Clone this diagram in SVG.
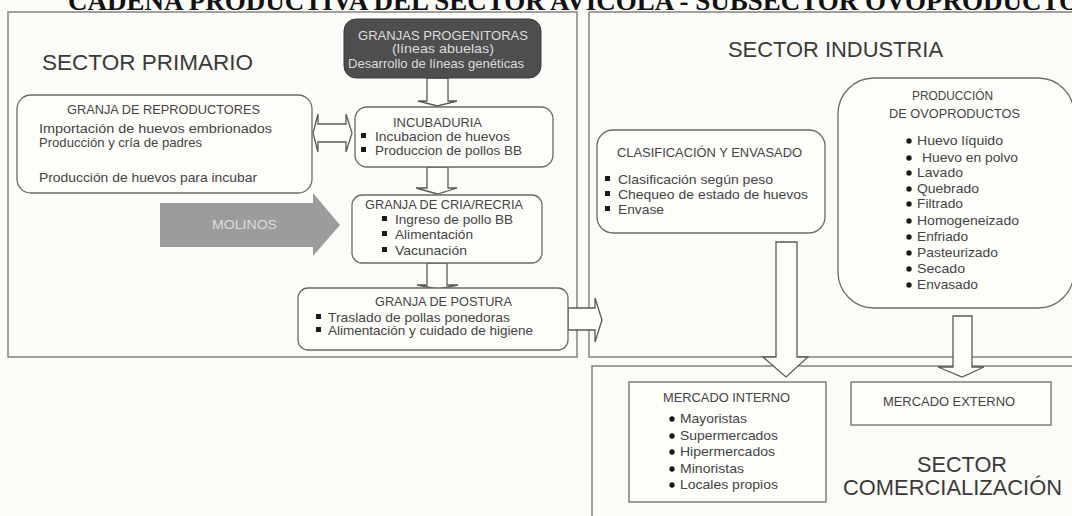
<svg xmlns="http://www.w3.org/2000/svg" width="1072" height="516" viewBox="0 0 1072 516">
<style>
.t{font-family:"Liberation Sans",Arial,sans-serif;font-size:13px;fill:#444}
.big{font-family:"Liberation Sans",Arial,sans-serif;font-size:22px;fill:#3a3a3a}
.title{font-family:"Liberation Serif","Times New Roman",serif;font-size:27px;font-weight:bold;fill:#111}
.panel{fill:none;stroke:#8a8a8a;stroke-width:1.6}
.box{fill:#fdfdfa;stroke:#6a6a6a;stroke-width:1.3}
.arr{fill:#fdfdfa;stroke:#5a5a5a;stroke-width:1.3;stroke-linejoin:miter}
.sq{fill:#1a1a1a}
.lt{font-family:"Liberation Sans",Arial,sans-serif;font-size:13px;fill:#dcdcdc}
</style>
<rect x="0" y="0" width="1072" height="516" fill="#fbfbf7"/>
<text class="title" x="68" y="10">CADENA PRODUCTIVA DEL SECTOR AVICOLA - SUBSECTOR OVOPRODUCTOS</text>

<g id="panels">
<rect class="panel" x="8" y="12" width="569" height="345"/>
<rect class="panel" x="589" y="12" width="490" height="345"/>
<rect class="panel" x="592" y="366" width="490" height="160"/>
<text class="big" x="42" y="70" textLength="211" lengthAdjust="spacingAndGlyphs">SECTOR PRIMARIO</text>
<text class="big" x="728" y="57" textLength="215" lengthAdjust="spacingAndGlyphs">SECTOR INDUSTRIA</text>
<text class="big" x="917" y="472" textLength="90" lengthAdjust="spacingAndGlyphs">SECTOR</text>
<text class="big" x="843" y="495" textLength="219" lengthAdjust="spacingAndGlyphs">COMERCIALIZACIÓN</text>
</g>

<g id="connectors">
<polygon class="arr" points="427,78 448,78 448,101 457,101 437.5,106 418,101 427,101"/>
<polygon class="arr" points="427,167 448,167 448,188 457,188 437.5,194 416,188 427,188"/>
<polygon class="arr" points="427,263 447,263 447,285 458,285 437.5,289 417,285 427,285"/>
<polygon class="arr" points="568,308 595,308 595,298 602,320 595,342 595,330 568,330"/>
<polygon class="arr" points="318,124 346,124 346,114 352,133 346,152 346,142 318,142 318,152 313,133 318,114"/>
<polygon class="arr" points="776,242 797,242 797,357 808,357 786,377 763,357 776,357"/>
<polygon class="arr" points="953,316 972,316 972,367 984,367 962,377 938,367 953,367"/>
</g>

<g id="molinos">
<polygon points="160,203 313,203 313,193 340,225 313,256 313,247 160,247" fill="#9c9c9c"/>
<text class="lt" x="212" y="229" textLength="65" lengthAdjust="spacingAndGlyphs">MOLINOS</text>
</g>

<g id="progenitoras">
<rect x="344" y="19" width="197" height="59" rx="12" fill="#4e4e4e" stroke="#3a3a3a"/>
<text class="lt" x="358" y="40" textLength="170" lengthAdjust="spacingAndGlyphs">GRANJAS PROGENITORAS</text>
<text class="lt" x="392" y="53" textLength="102" lengthAdjust="spacingAndGlyphs">(líneas abuelas)</text>
<text class="lt" x="348" y="68" textLength="176" lengthAdjust="spacingAndGlyphs">Desarrollo de líneas genéticas</text>
</g>

<g id="reproductores">
<rect class="box" x="17" y="95" width="295" height="98" rx="14"/>
<text class="t" x="67" y="114" textLength="193" lengthAdjust="spacingAndGlyphs">GRANJA DE REPRODUCTORES</text>
<text class="t" x="39" y="133" textLength="233" lengthAdjust="spacingAndGlyphs">Importación de huevos embrionados</text>
<text class="t" x="39" y="147" textLength="163" lengthAdjust="spacingAndGlyphs">Producción y cría de padres</text>
<text class="t" x="39" y="182" textLength="218" lengthAdjust="spacingAndGlyphs">Producción de huevos para incubar</text>
</g>

<g id="incubaduria">
<rect class="box" x="355" y="107" width="198" height="60" rx="12"/>
<text class="t" x="393" y="127" textLength="89" lengthAdjust="spacingAndGlyphs">INCUBADURIA</text>
<rect class="sq" x="361" y="133" width="5" height="5"/>
<text class="t" x="375" y="141" textLength="135" lengthAdjust="spacingAndGlyphs">Incubacion de huevos</text>
<rect class="sq" x="361" y="147" width="5" height="5"/>
<text class="t" x="375" y="155" textLength="147" lengthAdjust="spacingAndGlyphs">Produccion de pollos BB</text>
</g>

<g id="cria">
<rect class="box" x="352" y="195" width="190" height="68" rx="10"/>
<text class="t" x="365" y="209" textLength="158" lengthAdjust="spacingAndGlyphs">GRANJA DE CRIA/RECRIA</text>
<rect class="sq" x="382" y="216" width="5" height="5"/>
<text class="t" x="395" y="224" textLength="118" lengthAdjust="spacingAndGlyphs">Ingreso de pollo BB</text>
<rect class="sq" x="382" y="231" width="5" height="5"/>
<text class="t" x="395" y="239" textLength="78" lengthAdjust="spacingAndGlyphs">Alimentación</text>
<rect class="sq" x="382" y="247" width="5" height="5"/>
<text class="t" x="395" y="255" textLength="72" lengthAdjust="spacingAndGlyphs">Vacunación</text>
</g>

<g id="postura">
<rect class="box" x="298" y="288" width="270" height="62" rx="10"/>
<text class="t" x="375" y="306" textLength="137" lengthAdjust="spacingAndGlyphs">GRANJA DE POSTURA</text>
<rect class="sq" x="316" y="314" width="5" height="5"/>
<text class="t" x="328" y="322" textLength="182" lengthAdjust="spacingAndGlyphs">Traslado de pollas ponedoras</text>
<rect class="sq" x="316" y="327" width="5" height="5"/>
<text class="t" x="328" y="335" textLength="205" lengthAdjust="spacingAndGlyphs">Alimentación y cuidado de higiene</text>
</g>

<g id="clasificacion">
<rect class="box" x="597" y="130" width="228" height="103" rx="16"/>
<text class="t" x="617" y="157" textLength="185" lengthAdjust="spacingAndGlyphs">CLASIFICACIÓN Y ENVASADO</text>
<rect class="sq" x="605" y="176" width="5" height="5"/>
<text class="t" x="618" y="184" textLength="155" lengthAdjust="spacingAndGlyphs">Clasificación según peso</text>
<rect class="sq" x="605" y="191" width="5" height="5"/>
<text class="t" x="618" y="199" textLength="190" lengthAdjust="spacingAndGlyphs">Chequeo de estado de huevos</text>
<rect class="sq" x="605" y="206" width="5" height="5"/>
<text class="t" x="618" y="214" textLength="46" lengthAdjust="spacingAndGlyphs">Envase</text>
</g>

<g id="ovoproductos">
<rect class="box" x="838" y="78" width="236" height="230" rx="36"/>
<text class="t" x="912" y="100" textLength="81" lengthAdjust="spacingAndGlyphs">PRODUCCIÓN</text>
<text class="t" x="889" y="118" textLength="131" lengthAdjust="spacingAndGlyphs">DE OVOPRODUCTOS</text>
<g class="sq">
<circle cx="909" cy="141" r="2.7"/><circle cx="909" cy="158" r="2.7"/><circle cx="909" cy="173" r="2.7"/><circle cx="909" cy="189" r="2.7"/><circle cx="909" cy="204" r="2.7"/><circle cx="909" cy="221" r="2.7"/><circle cx="909" cy="237" r="2.7"/><circle cx="909" cy="253" r="2.7"/><circle cx="909" cy="269" r="2.7"/><circle cx="909" cy="285" r="2.7"/>
</g>
<text class="t" x="917" y="145" textLength="86" lengthAdjust="spacingAndGlyphs">Huevo líquido</text>
<text class="t" x="922" y="162" textLength="96" lengthAdjust="spacingAndGlyphs">Huevo en polvo</text>
<text class="t" x="917" y="177" textLength="46" lengthAdjust="spacingAndGlyphs">Lavado</text>
<text class="t" x="917" y="193" textLength="62" lengthAdjust="spacingAndGlyphs">Quebrado</text>
<text class="t" x="917" y="208" textLength="46" lengthAdjust="spacingAndGlyphs">Filtrado</text>
<text class="t" x="917" y="225" textLength="102" lengthAdjust="spacingAndGlyphs">Homogeneizado</text>
<text class="t" x="917" y="241" textLength="51" lengthAdjust="spacingAndGlyphs">Enfriado</text>
<text class="t" x="917" y="257" textLength="81" lengthAdjust="spacingAndGlyphs">Pasteurizado</text>
<text class="t" x="917" y="273" textLength="48" lengthAdjust="spacingAndGlyphs">Secado</text>
<text class="t" x="917" y="289" textLength="61" lengthAdjust="spacingAndGlyphs">Envasado</text>
</g>

<g id="mercado-interno">
<rect class="box" x="629" y="382" width="197" height="120"/>
<text class="t" x="663" y="402" textLength="127" lengthAdjust="spacingAndGlyphs">MERCADO INTERNO</text>
<g class="sq">
<circle cx="672" cy="419" r="2.7"/><circle cx="672" cy="436" r="2.7"/><circle cx="672" cy="452" r="2.7"/><circle cx="672" cy="469" r="2.7"/><circle cx="672" cy="485" r="2.7"/>
</g>
<text class="t" x="680" y="423" textLength="67" lengthAdjust="spacingAndGlyphs">Mayoristas</text>
<text class="t" x="680" y="440" textLength="98" lengthAdjust="spacingAndGlyphs">Supermercados</text>
<text class="t" x="680" y="456" textLength="95" lengthAdjust="spacingAndGlyphs">Hipermercados</text>
<text class="t" x="680" y="473" textLength="64" lengthAdjust="spacingAndGlyphs">Minoristas</text>
<text class="t" x="680" y="489" textLength="98" lengthAdjust="spacingAndGlyphs">Locales propios</text>
</g>

<g id="mercado-externo">
<rect class="box" x="851" y="382" width="200" height="43"/>
<text class="t" x="883" y="406" textLength="132" lengthAdjust="spacingAndGlyphs">MERCADO EXTERNO</text>
</g>
</svg>
